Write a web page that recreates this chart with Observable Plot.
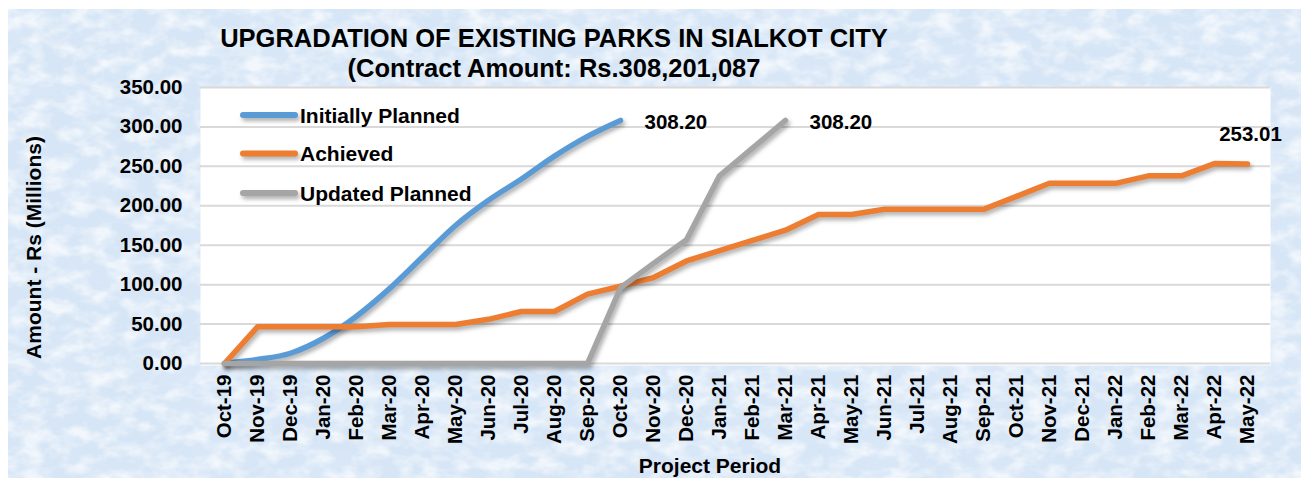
<!DOCTYPE html>
<html>
<head>
<meta charset="utf-8">
<script src="https://cdn.jsdelivr.net/npm/d3@7"></script>
<script src="https://cdn.jsdelivr.net/npm/@observablehq/plot@0.6"></script>
<style>
  html, body { margin: 0; padding: 0; background: #fff; }
  #wrap { position: relative; width: 1301px; height: 478px; overflow: hidden;
          font-family: "Liberation Sans", Arial, sans-serif; font-weight: bold; color: #000;
          background-color: #fff; }
  #wrap svg.plot { position: absolute; left: 0; top: 0; }
  .ttl { position: absolute; left: 0; width: 1108px; text-align: center; font-size: 25.5px; line-height: 25.5px; white-space: nowrap; }
  .xt { position: absolute; left: 560px; width: 300px; text-align: center; top: 455px; font-size: 21px; line-height: 21px; white-space: nowrap; }
  .yt { position: absolute; left: -117px; width: 300px; top: 237px; height: 21px; text-align: center; font-size: 21px; line-height: 21px; transform: rotate(-90deg); white-space: nowrap; }
  #legend { position: absolute; left: 0; top: 0; pointer-events: none; }
</style>
</head>
<body>
<div id="wrap">
  <div class="ttl" style="top:26px">UPGRADATION OF EXISTING PARKS IN SIALKOT CITY</div>
  <div class="ttl" style="top:56px">(Contract Amount: Rs.308,201,087</div>
</div>
<script>
// ---- data ----
const months = ["Oct-19","Nov-19","Dec-19","Jan-20","Feb-20","Mar-20","Apr-20","May-20","Jun-20","Jul-20","Aug-20","Sep-20",
  "Oct-20","Nov-20","Dec-20","Jan-21","Feb-21","Mar-21","Apr-21","May-21","Jun-21","Jul-21","Aug-21","Sep-21",
  "Oct-21","Nov-21","Dec-21","Jan-22","Feb-22","Mar-22","Apr-22","May-22"];
const initiallyPlanned = [0, 5, 13, 32, 60, 95, 135, 175, 207, 234, 263, 288, 308.20];
const achieved = [0, 46.5, 46.5, 46.5, 46.5, 49.5, 49.5, 49.5, 56, 66, 66, 88, 98, 109, 130, 143, 156, 169,
  189, 189, 195.5, 195.5, 195.5, 195.5, 212, 228.5, 228.5, 228.5, 238, 238, 253.5, 253.01];
const updatedPlanned = [0, 0, 0, 0, 0, 0, 0, 0, 0, 0, 0, 0, 96, 127, 157, 238, 273, 308.20];
const yTicks = [0, 50, 100, 150, 200, 250, 300, 350];
const seriesNames = ["Initially Planned", "Achieved", "Updated Planned"];
const seriesColors = ["#5b9bd5", "#ed7d31", "#a5a5a5"];
const xTitle = "Project Period";
const yTitle = "Amount - Rs (Millions)";

// ---- build ----
const toRows = (vals, name) => vals.map((v, i) => ({month: months[i], value: v, series: name}));
const ipRows = toRows(initiallyPlanned, seriesNames[0]);
const acRows = toRows(achieved, seriesNames[1]);
const upRows = toRows(updatedPlanned, seriesNames[2]);
const endLabels = [
  {...ipRows[ipRows.length - 1], anchor: "start"},
  {...upRows[upRows.length - 1], anchor: "start"},
  {...acRows[acRows.length - 1], anchor: "middle"}
];
const font = "'Liberation Sans', Arial, sans-serif";

const plot = Plot.plot({
  width: 1301, height: 478,
  marginLeft: 200, marginRight: 31, marginTop: 87, marginBottom: 115,
  style: {background: "transparent", fontFamily: font, fontWeight: "bold", fontSize: "20.5px", color: "#000", overflow: "visible"},
  x: {type: "point", domain: months, padding: 0.5, label: null},
  y: {domain: [0, 350], label: null},
  marks: [
    Plot.frame({fill: "white", stroke: null, insetBottom: -2}),
    Plot.gridY(yTicks, {stroke: "#d9d9d9", strokeOpacity: 1, strokeWidth: 2}),
    Plot.axisY(yTicks, {tickSize: 0, tickPadding: 18, tickFormat: d => d.toFixed(2), label: null, fontSize: 20.5, fill: "#000"}),
    Plot.axisX({tickRotate: -90, tickSize: 0, tickPadding: 11, label: null, fontSize: 20.5, fill: "#000"}),
    Plot.line(ipRows, {x: "month", y: "value", stroke: seriesColors[0], strokeWidth: 5.5, curve: "monotone-x", strokeLinecap: "round"}),
    Plot.line(acRows, {x: "month", y: "value", stroke: seriesColors[1], strokeWidth: 5.5, strokeLinecap: "round", strokeLinejoin: "round"}),
    Plot.line(upRows, {x: "month", y: "value", stroke: seriesColors[2], strokeWidth: 5.5, strokeLinecap: "round", strokeLinejoin: "round"}),
    Plot.text(endLabels.filter(d => d.anchor === "start"), {x: "month", y: "value", text: d => d.value.toFixed(2), textAnchor: "start", dx: 24, dy: 2, fontSize: 20.5, fill: "#000"}),
    Plot.text(endLabels.filter(d => d.anchor === "middle"), {x: "month", y: "value", text: d => d.value.toFixed(2), textAnchor: "middle", dx: 3, dy: -30, fontSize: 20.5, fill: "#000"})
  ]
});
plot.classList.add("plot");
d3.select(plot).selectAll('g[aria-label="line"]').style("filter", "drop-shadow(2px 3px 2px rgba(0,0,0,0.32))");

const wrap = document.getElementById("wrap");
wrap.insertBefore(plot, wrap.firstChild);

// background texture (light blue mottled paper, inset 8px left / 9px top)
const bg = `<svg xmlns='http://www.w3.org/2000/svg' width='1301' height='478'>
<filter id='n' x='0' y='0' width='100%' height='100%'><feTurbulence type='fractalNoise' baseFrequency='0.045 0.07' numOctaves='3' seed='11'/>
<feColorMatrix values='0 0 0 0 1  0 0 0 0 1  0 0 0 0 1  2.4 0 0 0 -0.95'/></filter>
<filter id='m' x='0' y='0' width='100%' height='100%'><feTurbulence type='fractalNoise' baseFrequency='0.012 0.02' numOctaves='2' seed='4'/>
<feColorMatrix values='0 0 0 0 0.72  0 0 0 0 0.82  0 0 0 0 0.95  2.0 0 0 0 -0.9'/></filter>
<rect x='8' y='9' width='1293' height='469' fill='#d7e6f6'/>
<rect x='8' y='9' width='1293' height='469' filter='url(#m)' opacity='0.5'/>
<rect x='8' y='9' width='1293' height='469' filter='url(#n)' opacity='0.7'/></svg>`;
wrap.style.backgroundImage = `url("data:image/svg+xml,${encodeURIComponent(bg)}")`;

// axis titles
const xt = document.createElement("div"); xt.className = "xt"; xt.textContent = xTitle; wrap.appendChild(xt);
const yt = document.createElement("div"); yt.className = "yt"; yt.textContent = yTitle; wrap.appendChild(yt);

// legend (inside plot area, top-left)
const leg = d3.select(wrap).append("svg").attr("id", "legend").attr("width", 1301).attr("height", 478);
const legY = [115, 153.5, 193];
const lg = leg.selectAll("g").data(seriesNames).join("g").attr("transform", (d, i) => `translate(0,${legY[i]})`);
lg.append("line").attr("x1", 243).attr("x2", 295).attr("stroke", (d, i) => seriesColors[i])
  .attr("stroke-width", 6).attr("stroke-linecap", "round")
  .style("filter", "drop-shadow(2px 3px 2px rgba(0,0,0,0.32))");
lg.append("text").attr("x", 300).attr("y", 7.5).attr("font-family", font).attr("font-weight", "bold")
  .attr("font-size", 21).attr("fill", "#000").text(d => d);
</script>
</body>
</html>
